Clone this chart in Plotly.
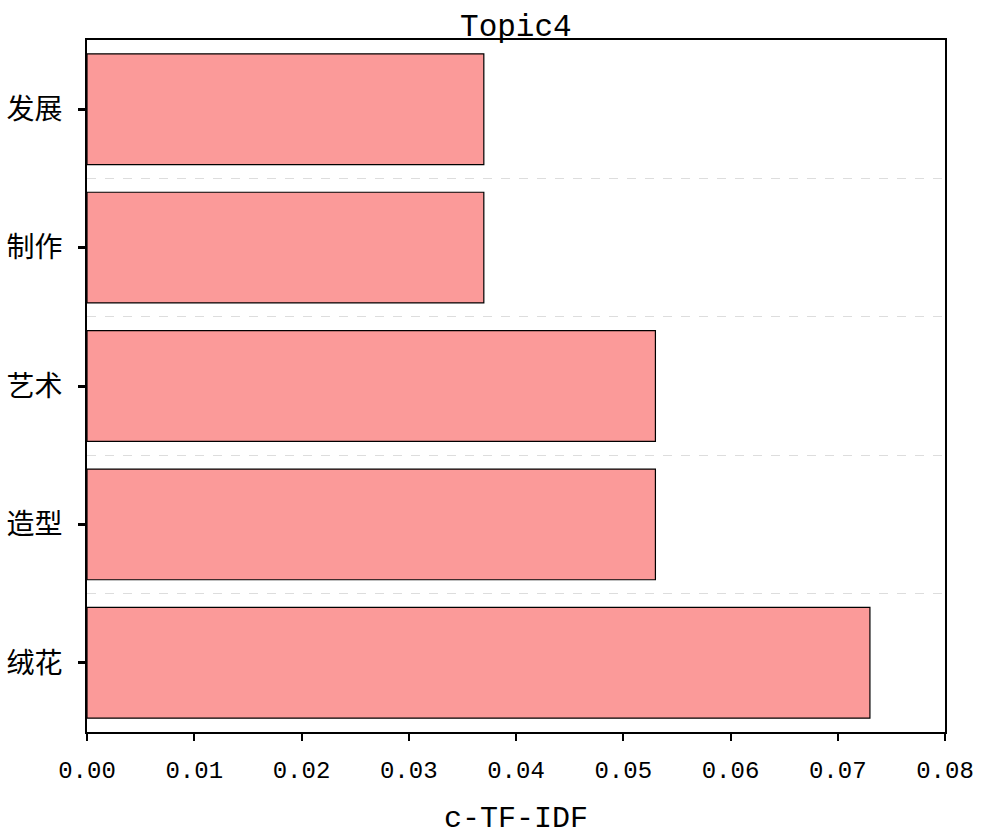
import plotly.graph_objects as go

categories = ["绒花", "造型", "艺术", "制作", "发展"]
values = [0.073, 0.053, 0.053, 0.037, 0.037]
x_ticks = [0.00, 0.01, 0.02, 0.03, 0.04, 0.05, 0.06, 0.07, 0.08]
x_ticktext = ["0.00", "0.01", "0.02", "0.03", "0.04", "0.05", "0.06", "0.07", "0.08"]
title_text = "Topic4"
x_title = "c-TF-IDF"

pos = list(range(len(categories)))
grid_pos = [p + 0.5 for p in pos[:-1]]

FONT = "Liberation Mono, Noto Sans CJK SC, monospace"

fig = go.Figure(go.Bar(
    x=values, y=pos, orientation="h", width=0.8,
    marker=dict(color="#FB9A99", line=dict(color="black", width=1.2)),
))

fig.update_layout(
    width=994, height=839,
    margin=dict(l=87, r=49, t=40, b=107, autoexpand=False),
    plot_bgcolor="white", paper_bgcolor="white",
    showlegend=False,
    font=dict(family=FONT, color="black"),
    title=dict(text=title_text, x=0.519, xanchor="center", y=1 - 25 / 839, yanchor="middle",
               font=dict(size=31, family=FONT, color="black")),
)

fig.update_xaxes(
    range=[0, 0.08], tickvals=x_ticks, ticktext=x_ticktext,
    showline=True, linecolor="black", linewidth=2, mirror=True,
    ticks="outside", ticklen=7, tickwidth=2, tickcolor="black",
    showgrid=False, zeroline=False,
    tickfont=dict(size=24, family=FONT),
    ticklabelstandoff=8,
    title=dict(text=x_title, font=dict(size=30, family=FONT), standoff=22),
)

fig.update_yaxes(
    range=[-0.5, 4.5], tickvals=pos, ticktext=categories,
    showline=True, linecolor="black", linewidth=2, mirror=True,
    ticks="outside", ticklen=7, tickwidth=2.5, tickcolor="black",
    showgrid=False, zeroline=False,
    tickfont=dict(size=28, family="Noto Sans CJK SC"),
    ticklabelstandoff=10,
    minor=dict(tickvals=grid_pos, showgrid=True, gridcolor="#dddddd",
               griddash="dash", gridwidth=1, ticks=""),
)

fig.write_html("out.html", config={"displayModeBar": False},
               post_script="document.body.style.margin='0';")
